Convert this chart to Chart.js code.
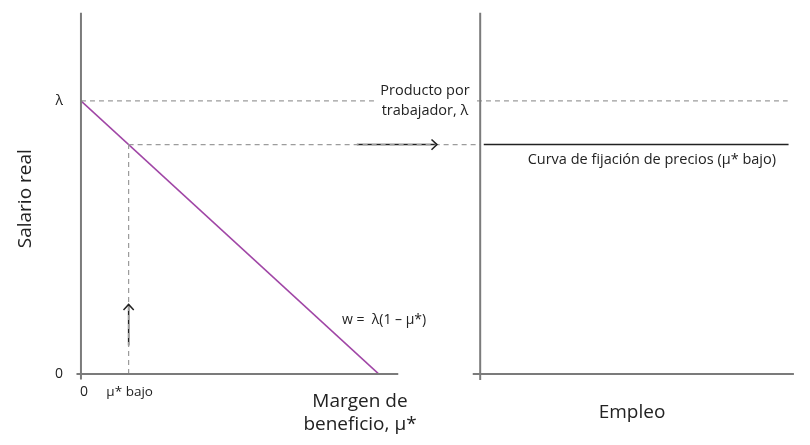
<!DOCTYPE html>
<html>
<head>
<meta charset="utf-8">
<script src="https://cdn.jsdelivr.net/npm/chart.js@4"></script>
<style>
  html, body { margin: 0; padding: 0; background: #fff; }
  #wrap { width: 810px; height: 445px; }
</style>
</head>
<body>
<div id="wrap"><canvas id="salario"></canvas></div>
<script>
// valores del modelo (lambda = 1)
const lambda = 1;
const muBajo = 0.16;
const wageMu = [0, 1];
const wageW = [lambda, 0];
const priceCurveW = lambda * (1 - muBajo);
const empleoStart = 1.34;
const empleoEnd = 2.375;
const yTickValues = [0, lambda];
const yTickLabels = ['0', 'λ'];

const FONT = "'Open Sans', 'Noto Sans', sans-serif";
const axisColor = '#7b7b7b';
const dashColor = '#9c9c9c';

function seg(x0, y0, x1, y1) {
  return [{x: x0, y: y0}, {x: x1, y: y1}];
}

function line(data, color, width, dash, extra) {
  return Object.assign({
    data: data,
    borderColor: color,
    borderWidth: width,
    borderDash: dash || [],
    showLine: true,
    pointRadius: 0,
    fill: false
  }, extra || {});
}

const datasets = [
  // ejes
  line(seg(-0.015, 0, 1.065, 0), axisColor, 2),
  line(seg(0, -0.02, 0, 1.324), axisColor, 2),
  line(seg(empleoStart - 0.025, 0, 2.393, 0), axisColor, 2),
  line(seg(empleoStart, -0.022, empleoStart, 1.324), axisColor, 2),
  // referencias discontinuas
  line(seg(0, lambda, 2.372, lambda), dashColor, 1.2, [5, 4]),
  line(seg(muBajo, priceCurveW, empleoStart, priceCurveW), dashColor, 1.2, [5, 4]),
  line(seg(muBajo, 0, muBajo, priceCurveW), dashColor, 1.2, [5, 4]),
  // w = lambda(1 - mu)
  line(wageMu.map((m, i) => ({x: m, y: wageW[i]})), '#a046a6', 1.5),
  // curva de fijacion de precios
  line(seg(empleoStart + 0.012, priceCurveW, empleoEnd, priceCurveW), '#222', 1.5),
  // flechas
  line(seg(0.926, priceCurveW, 1.195, priceCurveW), '#222', 1.5, [], {arrow: true}),
  line(seg(muBajo, 0.105, muBajo, 0.255), '#222', 1.5, [], {arrow: true})
];

const annotations = {
  id: 'annotations',
  afterDatasetsDraw(chart) {
    const ctx = chart.ctx;
    const xs = chart.scales.x, ys = chart.scales.y;
    ctx.save();
    // puntas de flecha
    chart.data.datasets.forEach((ds, i) => {
      if (!ds.arrow) return;
      const pts = chart.getDatasetMeta(i).data;
      const a = pts[0], b = pts[pts.length - 1];
      const ang = Math.atan2(b.y - a.y, b.x - a.x);
      const L = 7.5, W = 0.75;
      ctx.strokeStyle = ds.borderColor;
      ctx.lineWidth = 1.5;
      ctx.beginPath();
      ctx.moveTo(b.x - L * Math.cos(ang - W), b.y - L * Math.sin(ang - W));
      ctx.lineTo(b.x, b.y);
      ctx.lineTo(b.x - L * Math.cos(ang + W), b.y - L * Math.sin(ang + W));
      ctx.stroke();
    });

    function text(str, x, y, size, align) {
      ctx.font = size + 'px ' + FONT;
      ctx.textAlign = align || 'center';
      ctx.textBaseline = 'middle';
      ctx.fillStyle = '#222';
      ctx.fillText(str, x, y);
    }

    // etiqueta producto por trabajador
    const yl = ys.getPixelForValue(lambda);
    ctx.fillStyle = '#fff';
    ctx.fillRect(375, yl - 20, 99, 40);
    text('Producto por', 425, yl - 10, 14.5);
    text('trabajador, λ', 425, yl + 10, 14.5);

    const yp = ys.getPixelForValue(priceCurveW);
    text('Curva de fijación de precios (μ* bajo)', 776, yp + 15, 14.5, 'right');
    text('w =  λ(1 – μ*)', 342, 320, 14, 'left');

    const y0 = ys.getPixelForValue(0);
    text('0', xs.getPixelForValue(0) + 3, y0 + 18, 14);
    text('μ* bajo', xs.getPixelForValue(muBajo) + 1, y0 + 18, 13.5);

    text('Margen de', 360, 402, 19);
    text('beneficio, μ*', 360, 425, 19);
    text('Empleo', 632, 413, 19);
    ctx.restore();
  }
};

new Chart(document.getElementById('salario'), {
  type: 'scatter',
  data: { datasets: datasets },
  options: {
    responsive: true,
    maintainAspectRatio: false,
    animation: false,
    layout: { padding: { left: 0, right: 14, top: 0, bottom: 60 } },
    plugins: { legend: { display: false }, tooltip: { enabled: false } },
    scales: {
      x: { type: 'linear', min: -0.02, max: 2.40, display: false },
      y: {
        type: 'linear', min: -0.04, max: 1.324,
        grid: { display: false },
        border: { display: false },
        afterBuildTicks: s => { s.ticks = yTickValues.map(v => ({value: v})); },
        afterFit: s => { s.width = 75; },
        ticks: {
          padding: 4,
          color: '#222',
          font: { family: FONT, size: 14 },
          callback: v => yTickLabels[yTickValues.indexOf(v)]
        },
        title: {
          display: true,
          text: 'Salario real',
          color: '#222',
          font: { family: FONT, size: 19 },
          padding: { top: 14, bottom: 0 }
        }
      }
    }
  },
  plugins: [annotations]
});
</script>
</body>
</html>
